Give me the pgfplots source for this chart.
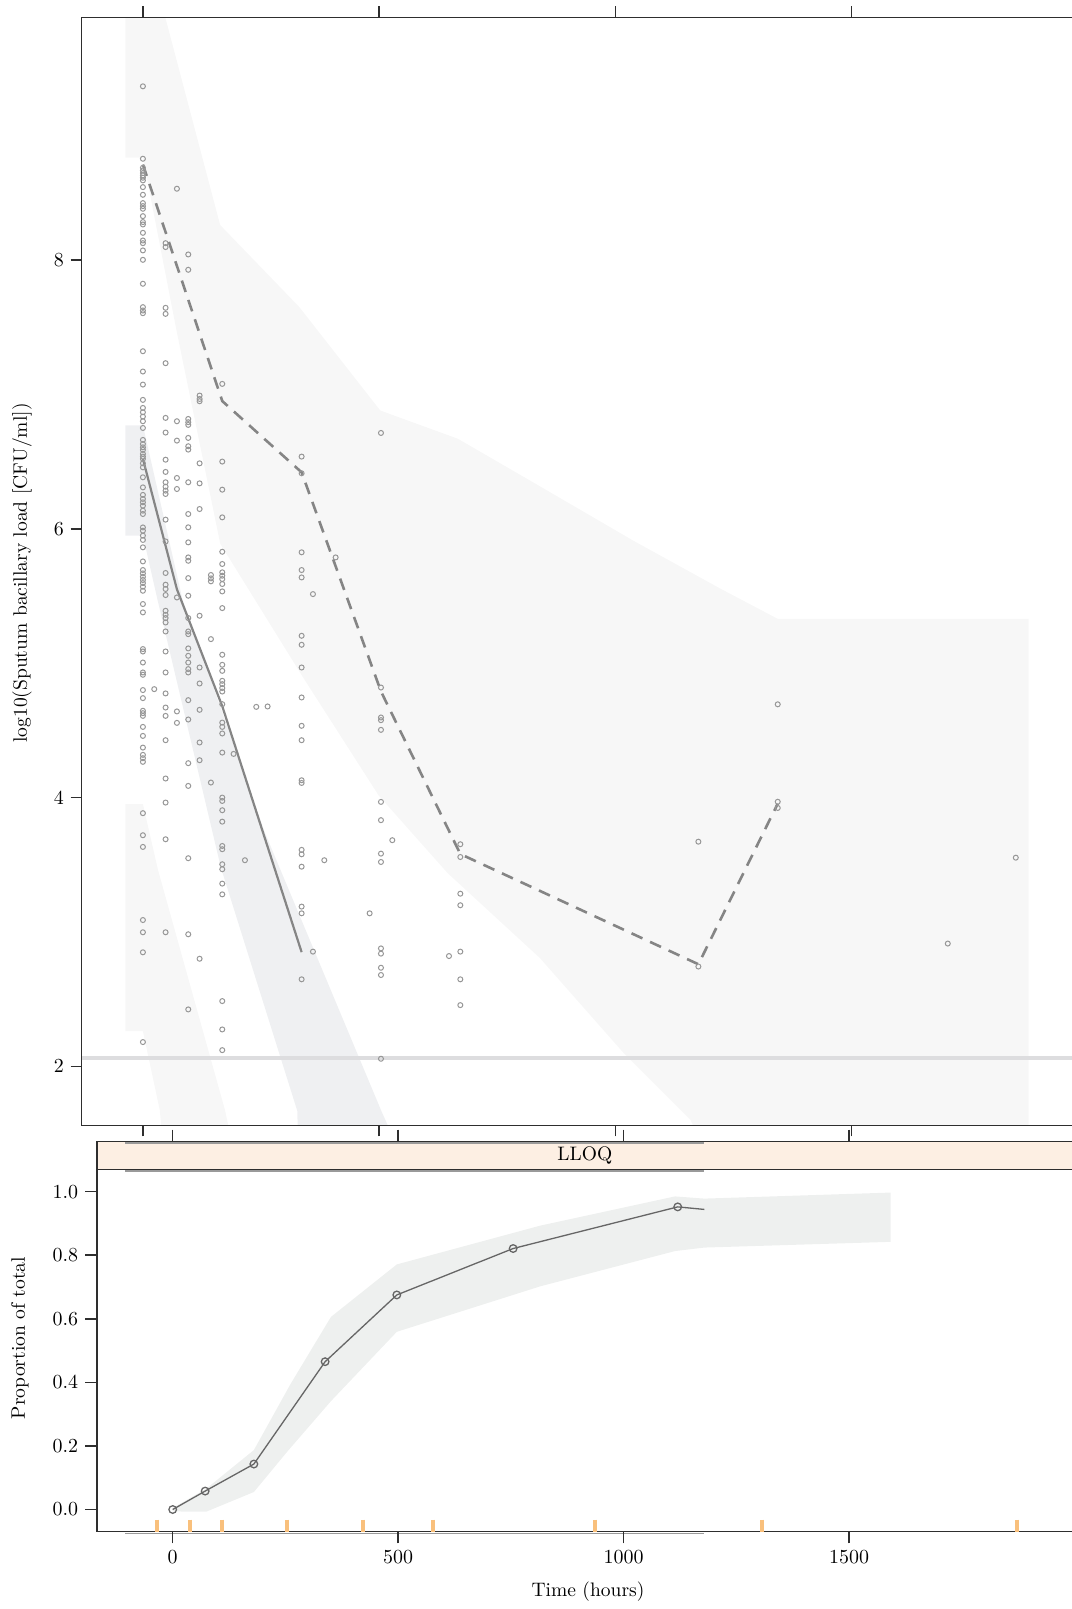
\documentclass[border=0pt]{standalone}
\usepackage{pgfplots}
\usepackage{pgfplotstable}
\pgfplotsset{compat=1.18}
\definecolor{ptgray}{HTML}{979797}
\definecolor{bandA}{HTML}{F7F7F7}
\definecolor{bandB}{HTML}{EFF0F2}
\definecolor{lloqc}{HTML}{DDDDDF}
\definecolor{linegray}{HTML}{858585}
\definecolor{stripc}{HTML}{FDEFE3}
\definecolor{bandC}{HTML}{EEF0EF}
\definecolor{rugc}{HTML}{F9C07C}
\definecolor{axc}{HTML}{2E2E2E}
\definecolor{artc}{HTML}{9A9A9A}

\pgfplotstableread{
t v
0 9.292
0 8.753
0 8.686
0 8.666
0 8.646
0 8.629
0 8.612
0 8.592
0 8.542
0 8.485
0 8.423
0 8.401
0 8.381
0 8.326
0 8.282
0 8.264
0 8.202
0 8.145
0 8.125
0 8.071
0 8.001
0 7.823
0 7.649
0 7.624
0 7.604
0 7.321
0 7.170
0 7.073
0 6.959
0 6.899
0 6.867
0 6.835
0 6.800
0 6.750
0 6.661
0 6.631
0 6.606
0 6.587
0 6.557
0 6.537
0 6.520
0 6.487
0 6.457
0 6.383
0 6.308
0 6.252
0 6.222
0 6.197
0 6.172
0 6.135
0 6.110
0 6.010
0 5.986
0 5.949
0 5.917
0 5.862
0 5.757
0 5.693
0 5.668
0 5.643
0 5.619
0 5.596
0 5.569
0 5.539
0 5.440
0 5.378
0 5.105
0 5.087
0 5.005
0 4.931
0 4.914
0 4.800
0 4.740
0 4.646
0 4.628
0 4.608
0 4.526
0 4.459
0 4.372
0 4.318
0 4.293
0 4.266
0 3.884
0 3.720
0 3.633
0 3.089
0 2.998
0 2.849
0 2.181
24 4.807
48 8.125
48 8.096
48 7.644
48 7.599
48 7.232
48 6.825
48 6.716
48 6.514
48 6.423
48 6.346
48 6.313
48 6.284
48 6.259
48 6.068
48 5.906
48 5.671
48 5.584
48 5.552
48 5.507
48 5.390
48 5.360
48 5.336
48 5.303
48 5.236
48 5.087
48 4.931
48 4.775
48 4.670
48 4.608
48 4.427
48 4.142
48 3.963
48 3.690
48 2.998
72 8.530
72 6.800
72 6.656
72 6.378
72 6.296
72 5.489
72 4.641
72 4.556
96 8.041
96 7.927
96 6.817
96 6.793
96 6.773
96 6.676
96 6.614
96 6.589
96 6.346
96 6.110
96 6.011
96 5.899
96 5.787
96 5.762
96 5.633
96 5.502
96 5.336
96 5.236
96 5.216
96 5.110
96 5.055
96 5.005
96 4.956
96 4.931
96 4.725
96 4.581
96 4.256
96 4.087
96 3.549
96 2.983
96 2.424
120 6.991
120 6.966
120 6.949
120 6.487
120 6.338
120 6.147
120 5.353
120 4.968
120 4.849
120 4.653
120 4.410
120 4.278
120 2.801
144 5.656
144 5.631
144 5.609
144 5.179
144 4.112
168 7.078
168 6.500
168 6.291
168 6.085
168 5.829
168 5.738
168 5.676
168 5.651
168 5.626
168 5.589
168 5.534
168 5.410
168 5.063
168 4.988
168 4.943
168 4.869
168 4.844
168 4.815
168 4.789
168 4.695
168 4.558
168 4.526
168 4.477
168 4.335
168 4.000
168 3.975
168 3.906
168 3.821
168 3.640
168 3.616
168 3.504
168 3.467
168 3.360
168 3.280
168 2.486
168 2.275
168 2.121
192 4.325
216 3.534
240 4.675
264 4.678
336 6.537
336 6.413
336 5.825
336 5.693
336 5.638
336 5.204
336 5.137
336 4.968
336 4.745
336 4.534
336 4.427
336 4.129
336 4.109
336 3.611
336 3.578
336 3.486
336 3.189
336 3.139
336 2.648
360 5.514
360 2.854
384 3.534
408 5.787
480 3.139
504 6.713
504 4.819
504 4.596
504 4.576
504 4.504
504 3.968
504 3.832
504 3.583
504 3.521
504 2.878
504 2.839
504 2.734
504 2.680
504 2.057
528 3.683
648 2.821
672 3.653
672 3.558
672 3.285
672 3.199
672 2.854
672 2.648
672 2.456
1176 3.672
1176 2.743
1344 4.694
1344 3.969
1344 3.923
1704 2.914
1848 3.553
}\obsdata

\begin{document}
\fontsize{9.8}{11.8}\selectfont
\begin{tikzpicture}
\useasboundingbox (0,0) rectangle (536bp,-804.5bp);
% ---------------- top panel ----------------
\begin{axis}[
  at={(40.85bp,-8.75bp)}, anchor=north west,
  scale only axis, width=509.15bp, height=553.95bp,
  xmin=-129.6, xmax=2026.3, ymin=1.561, ymax=9.804,
  axis on top,
  axis line style={axc, line width=0.75bp},
  every tick/.style={axc, line width=0.75bp},
  tick align=outside, major tick length=5.5bp,
  xtick={0,500,1000,1500}, xticklabels={},
  ytick={2,4,6,8}, ytick pos=left,
  tick label style={font=\fontsize{9.8}{11.8}\selectfont},
]
% upper band (95th percentile CI)
\addplot[fill=bandA, draw=none] coordinates {
 (-37,10.2) (44,9.85) (163.5,8.26) (331,7.65) (502.5,6.88) (666.7,6.67) (819,6.36)
 (1039,5.91) (1225,5.55) (1344,5.33) (1875,5.33) (1875,0.5)
 (1300,0.5) (1159.5,1.601) (1016.7,2.104) (840.3,2.807) (644.9,3.439) (498.9,4.017)
 (338.4,4.898) (163.7,5.889) (70.9,7.479) (0,8.761) (-37,8.761)} -- cycle;
% middle band (median CI)
\addplot[fill=bandB, draw=none] coordinates {
 (-37,6.77) (0,6.77) (84,5.47) (257,3.75) (505,1.667) (590,1.0)
 (330,1.0) (327,1.667) (165,3.48) (31,5.47) (0,5.95) (-37,5.95)} -- cycle;
% lower band (5th percentile CI)
\addplot[fill=bandA, draw=none] coordinates {
 (-37,3.952) (0,3.952) (32,3.461) (173.7,1.676) (215,1.0)
 (55,1.0) (35.6,1.676) (0,2.262) (-37,2.262)} -- cycle;
% LLOQ
\addplot[lloqc, line width=1.7bp] coordinates {(-140,2.0625) (2100,2.0625)};
% observations
\addplot[only marks, mark=o, mark size=1.25bp, mark options={draw=ptgray, line width=0.5bp}]
  table[x=t, y=v] {\obsdata};
% observed median
\addplot[linegray, line width=1.1bp] coordinates {(0,6.52) (72,5.55) (168,4.68) (336,2.85)};
% observed upper percentile
\addplot[linegray, line width=1.3bp, dash pattern=on 6bp off 4.2bp] coordinates {
 (0,8.71) (168,6.95) (336,6.42) (504,4.79) (672,3.58) (1176,2.76) (1344,3.955)};
\end{axis}
\node[rotate=90] at (11bp,-286.5bp) {log10(Sputum bacillary load [CFU/ml])};
% ---------------- bottom panel ----------------
\begin{axis}[
  at={(48.5bp,-570.85bp)}, anchor=north west,
  scale only axis, width=501.5bp, height=194.85bp,
  xmin=-167.9, xmax=2056.5, ymin=-0.0689, ymax=1.157,
  axis on top, clip=false,
  axis line style={axc, line width=0.75bp},
  every tick/.style={axc, line width=0.75bp},
  tick align=outside, major tick length=6bp,
  xtick={0,500,1000,1500},
  xticklabel style={/pgf/number format/1000 sep={}},
  ytick={0,0.2,0.4,0.6,0.8,1}, ytick pos=left,
  yticklabel style={/pgf/number format/.cd, fixed, fixed zerofill, precision=1},
  tick label style={font=\fontsize{9.8}{11.8}\selectfont},
]
\fill[stripc] (axis cs:-167.9,1.069) rectangle (axis cs:2056.5,1.157);
\draw[axc, line width=0.75bp] (axis cs:-167.9,1.069) -- (axis cs:2056.5,1.069);
\draw[artc, line width=0.8bp] (axis cs:-105,1.1535) -- (axis cs:1179,1.1535);
\draw[artc, line width=0.8bp] (axis cs:-105,1.0655) -- (axis cs:1179,1.0655);
\node at (axis cs:914,1.113) {LLOQ};
\addplot[fill=bandC, draw=none] coordinates {
 (0,0.005) (74,0.065) (180,0.187) (261,0.394) (351,0.606) (497,0.771) (815,0.893)
 (1114,0.985) (1179,0.978) (1592,0.997) (1592,0.842) (1179,0.824) (1114,0.813)
 (815,0.702) (497,0.559) (351,0.341) (254,0.182) (180,0.055) (74,-0.007) (0,-0.006)} -- cycle;
\addplot[color=black!60, line width=0.65bp] coordinates {
 (0,0.0) (72,0.058) (180,0.143) (338,0.465) (497,0.675) (755,0.821) (1120,0.952) (1179,0.944)};
\addplot[only marks, mark=o, mark size=1.9bp, mark options={draw=black!60, line width=0.65bp}] coordinates {
 (0,0.0) (72,0.058) (180,0.143) (338,0.465) (497,0.675) (755,0.821) (1120,0.952)};
\addplot[only marks, mark=|, mark size=3bp, mark options={draw=rugc, line width=2bp}] coordinates {
 (-34,-0.051) (38,-0.051) (109,-0.051) (253,-0.051) (421,-0.051) (578,-0.051)
 (936,-0.051) (1307,-0.051) (1872,-0.051)};
\draw[artc, line width=0.9bp] (axis cs:-105,-0.0755) -- (axis cs:1179,-0.0755);
\end{axis}
\node[rotate=90] at (10bp,-669bp) {Proportion of total};
\node at (294bp,-796bp) {Time (hours)};
\end{tikzpicture}
\end{document}
